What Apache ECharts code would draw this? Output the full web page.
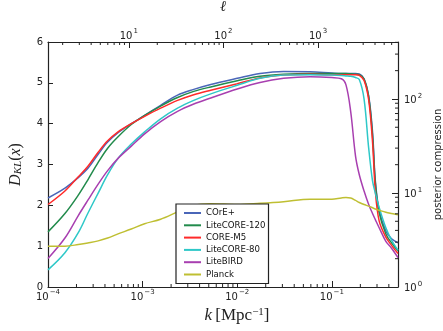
<!DOCTYPE html>
<html>
<head>
<meta charset="utf-8">
<script src="https://cdn.jsdelivr.net/npm/echarts@6.0.0/dist/echarts.min.js"></script>
<style>
  html, body { margin: 0; padding: 0; background: #fff; }
  #chart { width: 443px; height: 331px; }
</style>
</head>
<body>
<div id="chart"></div>
<script>
// wavenumber grid k [Mpc^-1]
const kValues = [1.0e-4, 1.51e-4, 2.09e-4, 2.63e-4, 3.39e-4, 4.27e-4, 5.50e-4, 7.59e-4, 1.05e-3, 1.55e-3,
  2.34e-3, 3.47e-3, 5.25e-3, 1.0e-2, 1.74e-2, 3.09e-2, 5.89e-2, 0.100, 0.126, 0.141,
  0.158, 0.178, 0.195, 0.219, 0.245, 0.269, 0.288, 0.316, 0.372, 0.427, 0.5];

const seriesNames = ['COrE+', 'LiteCORE-120', 'CORE-M5', 'LiteCORE-80', 'LiteBIRD', 'Planck'];
const seriesColors = ['#4a66b8', '#228b4c', '#ff2a2a', '#2ec8c8', '#a83fb0', '#bfbf32'];

const corePlus = [2.18, 2.42, 2.68, 2.90, 3.25, 3.55, 3.78, 4.00, 4.20, 4.45, 4.70, 4.84, 4.96, 5.11, 5.23, 5.28, 5.27, 5.24, 5.23, 5.23,
  5.23, 5.23, 5.22, 5.10, 4.68, 3.80, 2.60, 1.88, 1.37, 1.18, 1.08];
const liteCore120 = [1.35, 1.80, 2.25, 2.62, 3.05, 3.40, 3.68, 3.98, 4.20, 4.43, 4.64, 4.79, 4.90, 5.05, 5.16, 5.21, 5.23, 5.23, 5.23, 5.23,
  5.22, 5.21, 5.20, 5.09, 4.65, 3.70, 2.55, 1.82, 1.30, 1.08, 0.88];
const coreM5 = [2.02, 2.35, 2.70, 2.95, 3.30, 3.58, 3.80, 4.00, 4.18, 4.38, 4.57, 4.71, 4.82, 4.98, 5.12, 5.19, 5.21, 5.20, 5.20, 5.20,
  5.20, 5.20, 5.18, 5.06, 4.58, 3.55, 2.35, 1.62, 1.22, 1.02, 0.82];
const liteCore80 = [0.42, 0.84, 1.33, 1.80, 2.30, 2.75, 3.15, 3.50, 3.80, 4.12, 4.38, 4.57, 4.73, 4.94, 5.11, 5.19, 5.20, 5.19, 5.18, 5.17,
  5.16, 5.13, 5.08, 4.60, 3.40, 2.60, 2.30, 1.95, 1.45, 1.15, 0.90];
const liteBird = [0.70, 1.20, 1.75, 2.12, 2.52, 2.85, 3.15, 3.45, 3.75, 4.05, 4.30, 4.48, 4.63, 4.85, 5.01, 5.11, 5.15, 5.13, 5.10, 4.95,
  4.30, 3.20, 2.75, 2.35, 2.02, 1.80, 1.65, 1.45, 1.12, 0.95, 0.72];
const planck = [1.00, 1.00, 1.04, 1.08, 1.13, 1.20, 1.30, 1.42, 1.55, 1.66, 1.84, 2.00, 2.04, 2.02, 2.05, 2.09, 2.15, 2.15, 2.18, 2.19,
  2.18, 2.12, 2.07, 2.02, 1.98, 1.94, 1.91, 1.88, 1.83, 1.80, 1.77];

const seriesValues = [corePlus, liteCore120, coreM5, liteCore80, liteBird, planck];

// multipole per unit k for the top axis
const ellPerK = 14000;
const kMin = 1e-4, kMax = 0.5;
const dMin = 0, dMax = 6;

const chart = echarts.init(document.getElementById('chart'));

const ink = '#222';
const sans = 'DejaVu Sans';
const serif = 'Liberation Serif';

// superscript: sup token padded at the bottom so it sits high in the line
const supRich = {
  b: { fontSize: 10, fontFamily: sans, color: ink, verticalAlign: 'bottom' },
  s: { fontSize: 7, fontFamily: sans, color: ink, verticalAlign: 'top', padding: [0, 0, 6, 1] }
};

function powLabel(v) {
  const e = Math.round(Math.log10(v));
  if (Math.abs(Math.log10(v) - e) > 1e-6) return '';
  return '{b|10}{s|' + (e < 0 ? '\u2212' + (-e) : e) + '}';
}

function minorValues(lo, hi) {
  const out = [];
  for (let d = Math.floor(Math.log10(lo)); d <= Math.ceil(Math.log10(hi)); d++) {
    for (let m = 2; m <= 9; m++) {
      const v = m * Math.pow(10, d);
      if (v > lo && v < hi) out.push(v);
    }
  }
  return out;
}

function minorTicks(xIdx, yIdx, data, side) {
  return {
    type: 'custom',
    xAxisIndex: xIdx,
    yAxisIndex: yIdx,
    silent: true,
    z: 5,
    clip: false,
    data: data,
    renderItem: function (params, api) {
      const cs = params.coordSys;
      const p = api.coord([api.value(0), api.value(1)]);
      let shape;
      if (side === 'bottom') shape = { x1: p[0], y1: cs.y + cs.height, x2: p[0], y2: cs.y + cs.height - 3 };
      else if (side === 'top') shape = { x1: p[0], y1: cs.y, x2: p[0], y2: cs.y + 3 };
      else shape = { x1: cs.x + cs.width, y1: p[1], x2: cs.x + cs.width - 3, y2: p[1] };
      return { type: 'line', shape: shape, style: { stroke: ink, lineWidth: 1 } };
    }
  };
}

const lineSeries = seriesNames.map((name, i) => ({
  name: name,
  type: 'line',
  xAxisIndex: 0,
  yAxisIndex: 0,
  data: kValues.map((k, j) => [k, seriesValues[i][j]]),
  showSymbol: false,
  smooth: 0.35,
  lineStyle: { width: 1.5, color: seriesColors[i] },
  itemStyle: { color: seriesColors[i] },
  z: 2
}));

const axisLineStyle = { show: true, lineStyle: { color: ink, width: 1.2 } };

const option = {
  animation: false,
  backgroundColor: '#fff',
  grid: { left: 48, right: 45, top: 42, bottom: 44, outerBoundsMode: 'none', containLabel: false },
  legend: {
    data: seriesNames,
    orient: 'vertical',
    left: 176,
    top: 204,
    backgroundColor: '#fff',
    borderColor: ink,
    borderWidth: 1.2,
    padding: [4, 3, 4, 8],
    itemWidth: 17,
    itemHeight: 2,
    itemGap: 2.3,
    icon: 'rect',
    textStyle: { fontSize: 8.6, lineHeight: 10, color: '#111', fontFamily: sans }
  },
  xAxis: [
    {
      type: 'log', logBase: 10, min: kMin, max: kMax, position: 'bottom',
      axisLine: axisLineStyle,
      axisTick: { inside: true, length: 6, lineStyle: { color: ink } },
      axisLabel: { formatter: powLabel, rich: supRich, margin: 2 },
      splitLine: { show: false },
      name: '{i|k} {r|[Mpc}{s|\u22121}{r|]}',
      nameLocation: 'middle',
      nameGap: 18,
      nameTextStyle: {
        padding: [0, 0, 0, 28],
        rich: {
          i: { fontFamily: serif, fontStyle: 'italic', fontSize: 17, color: ink, verticalAlign: 'bottom' },
          r: { fontFamily: serif, fontSize: 17, color: ink, verticalAlign: 'bottom' },
          s: { fontFamily: serif, fontSize: 11, color: ink, verticalAlign: 'top', padding: [0, 0, 6, 0] }
        }
      }
    },
    {
      type: 'log', logBase: 10, min: kMin * ellPerK, max: kMax * ellPerK, position: 'top',
      axisLine: axisLineStyle,
      axisTick: { inside: true, length: 6, lineStyle: { color: ink } },
      axisLabel: { formatter: powLabel, rich: supRich, margin: 1 },
      splitLine: { show: false },
      name: '\u2113',
      nameLocation: 'middle',
      nameGap: 27,
      nameTextStyle: { fontFamily: serif, fontStyle: 'italic', fontSize: 15, color: ink }
    }
  ],
  yAxis: [
    {
      type: 'value', min: dMin, max: dMax, interval: 1, position: 'left',
      axisLine: axisLineStyle,
      axisTick: { inside: true, length: 5, lineStyle: { color: ink } },
      axisLabel: { fontSize: 10, fontFamily: sans, color: ink, margin: 5 },
      splitLine: { show: false },
      name: '{i|D}{s|KL}{r|(}{i|x}{r|)}',
      nameLocation: 'middle',
      nameGap: 24,
      nameTextStyle: {
        rich: {
          i: { fontFamily: serif, fontStyle: 'italic', fontSize: 16, color: ink, verticalAlign: 'top' },
          r: { fontFamily: serif, fontSize: 16, color: ink, verticalAlign: 'top' },
          s: { fontFamily: serif, fontStyle: 'italic', fontSize: 11, color: ink, verticalAlign: 'bottom', padding: [5, 0, 0, 0] }
        }
      }
    },
    {
      type: 'log', logBase: 10, min: Math.exp(dMin), max: Math.exp(dMax), position: 'right',
      axisLine: axisLineStyle,
      axisTick: { inside: true, length: 6, lineStyle: { color: ink } },
      axisLabel: { formatter: powLabel, rich: supRich, margin: 6 },
      splitLine: { show: false },
      name: 'posterior compression',
      nameLocation: 'middle',
      nameGap: 33,
      nameTextStyle: { fontFamily: sans, fontSize: 10, color: ink }
    }
  ],
  series: lineSeries.concat([
    minorTicks(0, 0, minorValues(kMin, kMax).map(v => [v, 0]), 'bottom'),
    minorTicks(1, 0, minorValues(kMin * ellPerK, kMax * ellPerK).map(v => [v, 0]), 'top'),
    minorTicks(0, 1, minorValues(Math.exp(dMin), Math.exp(dMax)).map(v => [kMin, v]), 'right')
  ])
};

chart.setOption(option);
</script>
</body>
</html>
